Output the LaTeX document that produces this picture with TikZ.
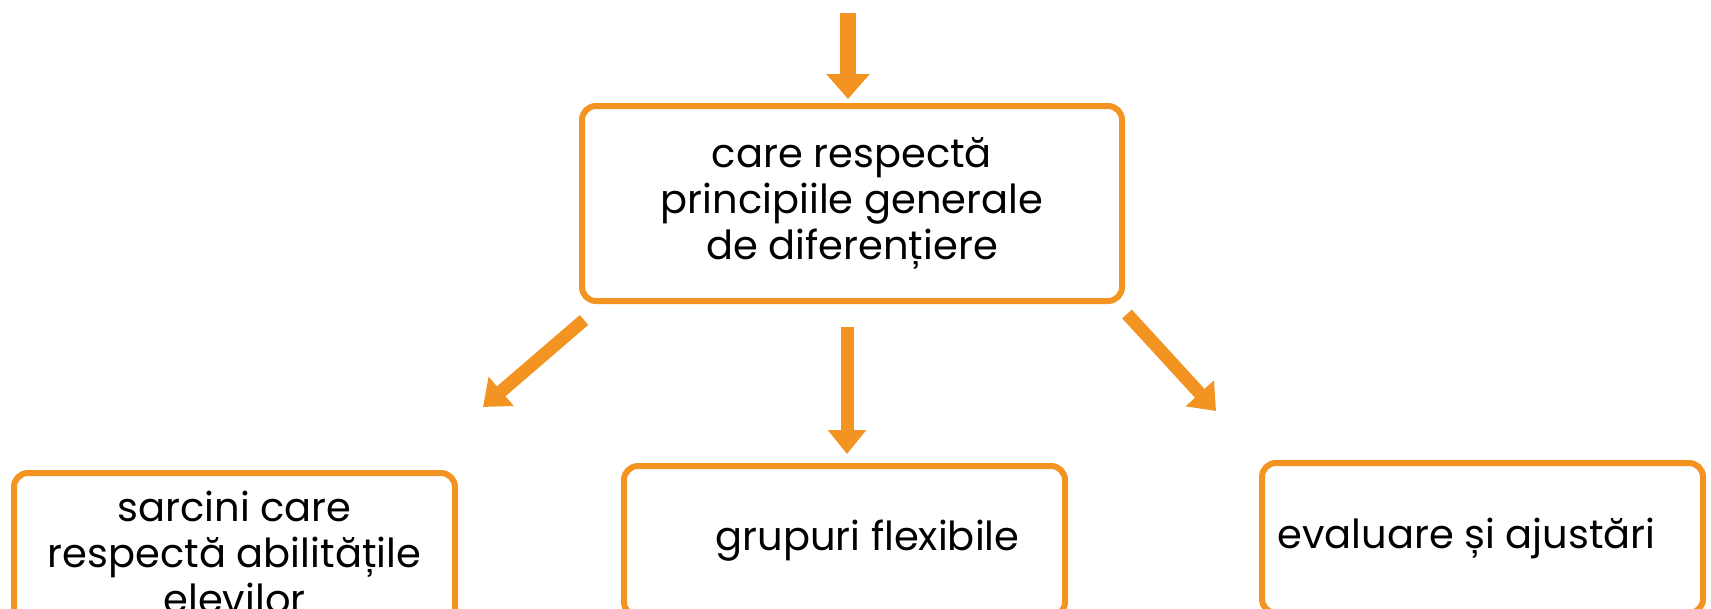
\documentclass[tikz,border=0pt]{standalone}
\usepackage{fontspec}
\setmainfont{Poppins}
\usetikzlibrary{arrows.meta}
\definecolor{boxorange}{RGB}{242,147,34}

\begin{document}
\begin{tikzpicture}[x=1pt,y=-1pt,
box/.style={draw=boxorange,line width=6pt,rounded corners=14pt,outer sep=0pt,align=center,font=\fontsize{40}{46}\selectfont},
bigarrow/.style={draw=boxorange,line width=16pt,-{Triangle[length=25pt,width=42pt]}},
sidearrow/.style={draw=boxorange,line width=13pt,-{Triangle[length=24pt,width=37pt]}}]
\clip (0,0) rectangle (1711,608);
\node[box,minimum width=540pt,minimum height=195pt] (care) at (852,203.5) {care respectă\\principiile generale\\de diferențiere};
\node[box,minimum width=441pt,minimum height=158pt] (sarcini) at (234.5,552) {sarcini care\\respectă abilitățile\\elevilor};
\node[box,minimum width=441pt,minimum height=150pt] (grupuri) at (844.5,541) {\hspace*{46pt}grupuri flexibile};
\node[box,minimum width=441pt,minimum height=150pt] (evaluare) at (1482.5,538) {evaluare și ajustări\hspace*{32pt}};
\coordinate (top) at (848,13);
\coordinate (mid) at (847,327);
\coordinate (ls) at (584,320);
\coordinate (le) at (483,407);
\coordinate (rs) at (1127,314);
\coordinate (re) at (1216,411);
\draw[bigarrow,shorten >=7pt] (top) -- (top |- care.north);
\draw[sidearrow,shorten >=12pt] (mid) -- (mid |- grupuri.north);
\draw[sidearrow] (ls) -- (le);
\draw[sidearrow] (rs) -- (re);
\end{tikzpicture}
\end{document}
